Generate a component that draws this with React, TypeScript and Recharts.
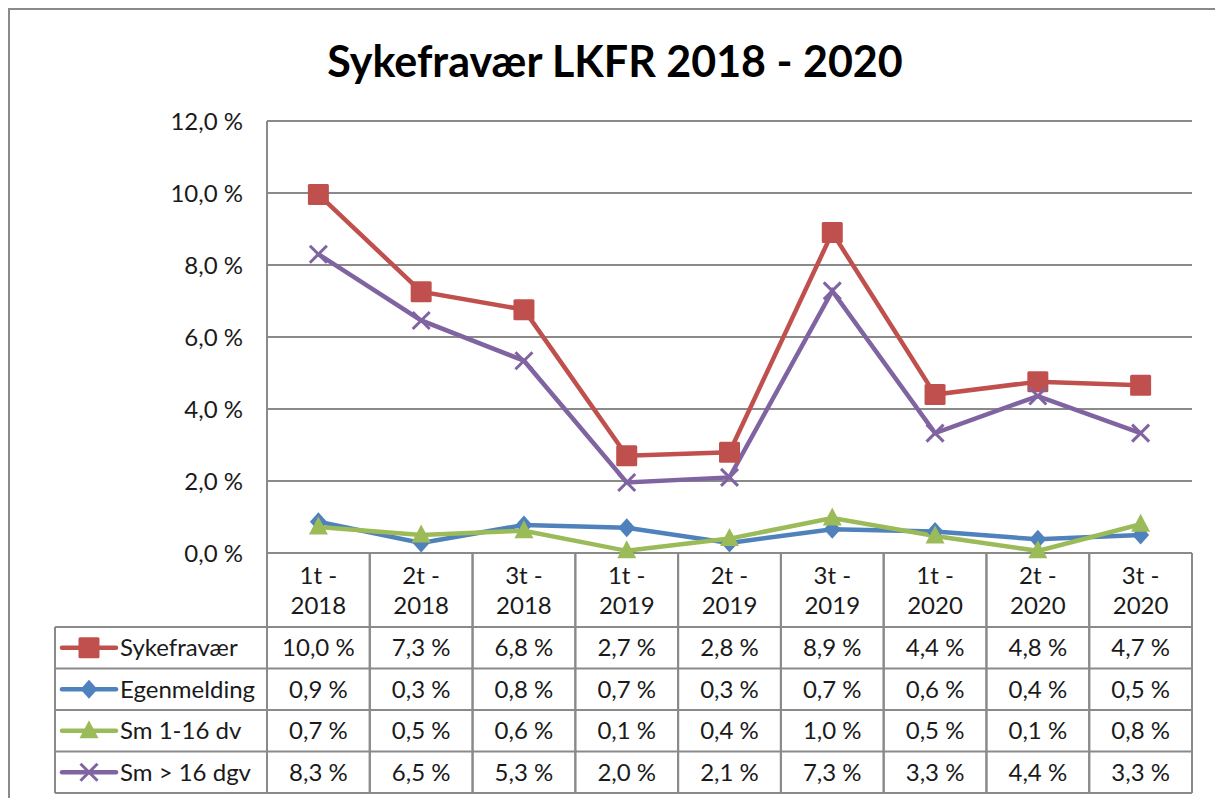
import React from 'react';
import { LineChart, Line, XAxis, YAxis, CartesianGrid, Customized } from 'recharts';

const categories = ['1t - 2018', '2t - 2018', '3t - 2018', '1t - 2019', '2t - 2019', '3t - 2019', '1t - 2020', '2t - 2020', '3t - 2020'];
const sykefravaer = [9.96, 7.26, 6.76, 2.7, 2.8, 8.9, 4.4, 4.76, 4.66];
const egenmelding = [0.87, 0.28, 0.78, 0.7, 0.28, 0.66, 0.6, 0.38, 0.5];
const sm116 = [0.72, 0.5, 0.62, 0.06, 0.4, 0.97, 0.47, 0.06, 0.8];
const sm16 = [8.3, 6.46, 5.34, 1.96, 2.1, 7.28, 3.33, 4.36, 3.33];
const yTicks = [0, 2, 4, 6, 8, 10, 12];
const title = 'Sykefravær LKFR 2018 - 2020';

const series = [
  { key: 'syk', name: 'Sykefravær', values: sykefravaer, color: '#C0504D', shape: 'square' },
  { key: 'egen', name: 'Egenmelding', values: egenmelding, color: '#4F81BD', shape: 'diamond' },
  { key: 'sm116', name: 'Sm 1-16 dv', values: sm116, color: '#9BBB59', shape: 'triangle' },
  { key: 'sm16', name: 'Sm > 16 dgv', values: sm16, color: '#8064A2', shape: 'x' },
];

const data = categories.map((c, i) => {
  const row: any = { name: c };
  series.forEach((s) => (row[s.key] = s.values[i]));
  return row;
});

const W = 1215;
const H = 798;
const PLOT_L = 267;
const PLOT_R = 1192;
const PLOT_T = 121;
const PLOT_B = 553;
const TABLE_L = 55;
const HEADER_B = 627;
const ROW_H = 41.5;
const TABLE_B = HEADER_B + ROW_H * 4;
const GRID = '#8a8a8a';
const TEXT = '#1a1a1a';
const FONT = 'Lato, "Open Sans", sans-serif';
const FS = 24;
const X_AXIS_H = 30;
const Y_AXIS_W = 60;

const fmt = (v: number) => v.toFixed(1).replace('.', ',') + ' %';

function marker(shape: string, cx: number, cy: number, color: string, key?: any) {
  if (shape === 'square') {
    return <rect key={key} x={cx - 10.5} y={cy - 10.5} width={21} height={21} rx={1.5} fill={color} />;
  }
  if (shape === 'diamond') {
    return <polygon key={key} points={`${cx},${cy - 9.5} ${cx + 8.5},${cy} ${cx},${cy + 9.5} ${cx - 8.5},${cy}`} fill={color} />;
  }
  if (shape === 'triangle') {
    return <polygon key={key} points={`${cx},${cy - 10.5} ${cx + 9.5},${cy + 7.5} ${cx - 9.5},${cy + 7.5}`} fill={color} />;
  }
  return (
    <g key={key}>
      <line x1={cx - 8.5} y1={cy - 8.5} x2={cx + 8.5} y2={cy + 8.5} stroke={color} strokeWidth={3} />
      <line x1={cx - 8.5} y1={cy + 8.5} x2={cx + 8.5} y2={cy - 8.5} stroke={color} strokeWidth={3} />
    </g>
  );
}

const TableTick = (props: any) => {
  const { x, payload, index } = props;
  const idx = payload && typeof payload.index === 'number' ? payload.index : index;
  const bw = (PLOT_R - PLOT_L) / categories.length;
  const left = x - bw / 2;
  const right = x + bw / 2;
  const parts = String(payload.value).split(' - ');
  return (
    <g>
      <line x1={left} x2={left} y1={PLOT_B} y2={TABLE_B} stroke={GRID} strokeWidth={2} />
      <line x1={right} x2={right} y1={PLOT_B} y2={TABLE_B} stroke={GRID} strokeWidth={2} />
      <text x={x} y={584} textAnchor="middle" fontSize={FS} fill={TEXT} fontFamily={FONT}>{parts[0] + ' -'}</text>
      <text x={x} y={614} textAnchor="middle" fontSize={FS} fill={TEXT} fontFamily={FONT}>{parts[1]}</text>
      {series.map((s, r) => (
        <text key={s.key} x={x} y={HEADER_B + ROW_H * r + ROW_H / 2 + 8.5} textAnchor="middle" fontSize={FS} fill={TEXT} fontFamily={FONT}>
          {fmt(s.values[idx])}
        </text>
      ))}
    </g>
  );
};

const Decor = () => (
  <g>
    <rect x={9} y={9} width={W + 50} height={H + 50} fill="none" stroke={GRID} strokeWidth={2} />
    <text x={615} y={77} textAnchor="middle" fontSize={43} fontWeight="bold" fill="#000" fontFamily={FONT}>{title}</text>
    {[0, 1, 2, 3, 4].map((r) => (
      <line key={r} x1={TABLE_L} x2={PLOT_R} y1={HEADER_B + ROW_H * r} y2={HEADER_B + ROW_H * r} stroke={GRID} strokeWidth={2} />
    ))}
    <line x1={TABLE_L} x2={TABLE_L} y1={HEADER_B} y2={TABLE_B} stroke={GRID} strokeWidth={2} />
    {series.map((s, r) => {
      const cy = HEADER_B + ROW_H * r + ROW_H / 2;
      return (
        <g key={s.key}>
          <line x1={62} x2={116} y1={cy} y2={cy} stroke={s.color} strokeWidth={4.5} strokeLinecap="round" />
          {marker(s.shape, 89, cy, s.color)}
          <text x={120} y={cy + 8.5} fontSize={FS} fill={TEXT} fontFamily={FONT}>{s.name}</text>
        </g>
      );
    })}
  </g>
);

export default function App() {
  return (
    <div style={{ position: 'absolute', left: 0, top: 0, width: W, height: H, background: '#fff', fontFamily: FONT }}>
      <LineChart
        width={W}
        height={H}
        data={data}
        margin={{ top: PLOT_T, right: W - PLOT_R, left: PLOT_L - Y_AXIS_W, bottom: H - PLOT_B - X_AXIS_H }}
      >
        <Customized component={Decor} />
        <CartesianGrid vertical={false} stroke={GRID} strokeWidth={2} />
        <XAxis
          dataKey="name"
          scale="band"
          height={X_AXIS_H}
          interval={0}
          tickLine={false}
          axisLine={{ stroke: GRID, strokeWidth: 2 }}
          tick={<TableTick />}
        />
        <YAxis
          width={Y_AXIS_W}
          domain={[0, 12]}
          ticks={yTicks}
          interval={0}
          tickLine={false}
          tickSize={0}
          tickMargin={24}
          axisLine={{ stroke: GRID, strokeWidth: 2 }}
          tickFormatter={fmt}
          tick={{ fill: TEXT, fontSize: FS, fontFamily: FONT }}
        />
        {series.map((s) => (
          <Line
            key={s.key}
            dataKey={s.key}
            name={s.name}
            stroke={s.color}
            strokeWidth={4.5}
            isAnimationActive={false}
            dot={(p: any) => marker(s.shape, p.cx, p.cy, s.color, `${s.key}-${p.index}`)}
            activeDot={false}
          />
        ))}
      </LineChart>
    </div>
  );
}
